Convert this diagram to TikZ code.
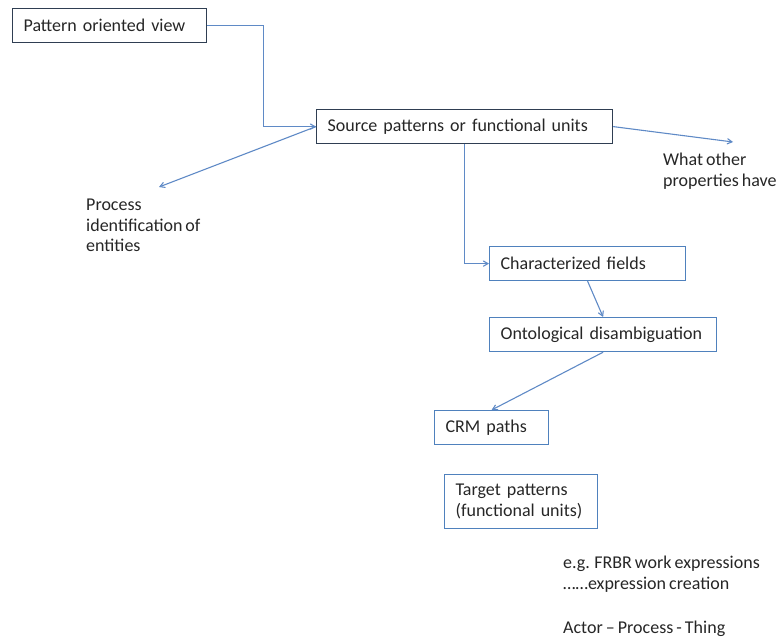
\documentclass[tikz,border=0pt]{standalone}
\usepackage{fontspec}
\setmainfont[WordSpace=0.75]{Carlito}
\usepackage{tikz}
\usetikzlibrary{shapes,arrows,positioning}
\definecolor{navyline}{HTML}{2F3E52}
\definecolor{boxblue}{HTML}{4F81BD}
\definecolor{arrowblue}{HTML}{5F8AC6}
\tikzstyle{darkbox}=[rectangle, draw=navyline, line width=1.2pt, anchor=north west, align=left, inner xsep=11pt, minimum height=34pt, text=black!85]
\tikzstyle{bluebox}=[rectangle, draw=boxblue, line width=1.2pt, anchor=north west, align=left, inner xsep=11pt, minimum height=34pt, text=black!85]
\tikzstyle{note}=[anchor=north west, align=left, inner sep=0pt, text=black!85]
\tikzstyle{link}=[draw=arrowblue, line width=1.1pt, ->, >=angle 60]

\begin{document}
\begin{tikzpicture}[x=1pt, y=-1pt, font=\fontsize{18}{20.5}\selectfont]
    \useasboundingbox (0,0) rectangle (781,639);
    % boxes
    \node (pov) [darkbox, text width=172pt] at (12,8) {Pattern oriented view};
    \node (src) [darkbox, text width=274pt] at (316,109) {Source patterns or functional units};
    \node (fields) [bluebox, text width=174pt] at (489,246) {Characterized fields};
    \node (onto) [bluebox, text width=205pt] at (489,317) {Ontological disambiguation};
    \node (crm) [bluebox, text width=92pt] at (434,410) {CRM paths};
    \node (target) [bluebox, text width=131pt, minimum height=54pt] at (444,474)
        {Target patterns\\(functional units)};
    % free text
    \node (proc) [note] at (86,199) {Process\\identification of\\entities};
    \node (other) [note] at (663,153) {What other\\properties have};
    \node (eg) [note] at (563,556) {e.g. FRBR work expressions\\……expression creation};
    \node (actor) [note] at (563,621) {Actor – Process - Thing};
    \coordinate (procend) at (159,187);
    \coordinate (otherend) at (733,142);
    % connectors
    \path[link] (pov.east) -- ++(56,0) |- (src.west);
    \path[link] (src.west) -- (procend);
    \path[link] (src.east) -- (otherend);
    \path[link] (src.south) |- (fields.west);
    \path[link] (fields.south) -- (onto.north);
    \path[link] (onto.south) -- (crm.north);
\end{tikzpicture}
\end{document}
